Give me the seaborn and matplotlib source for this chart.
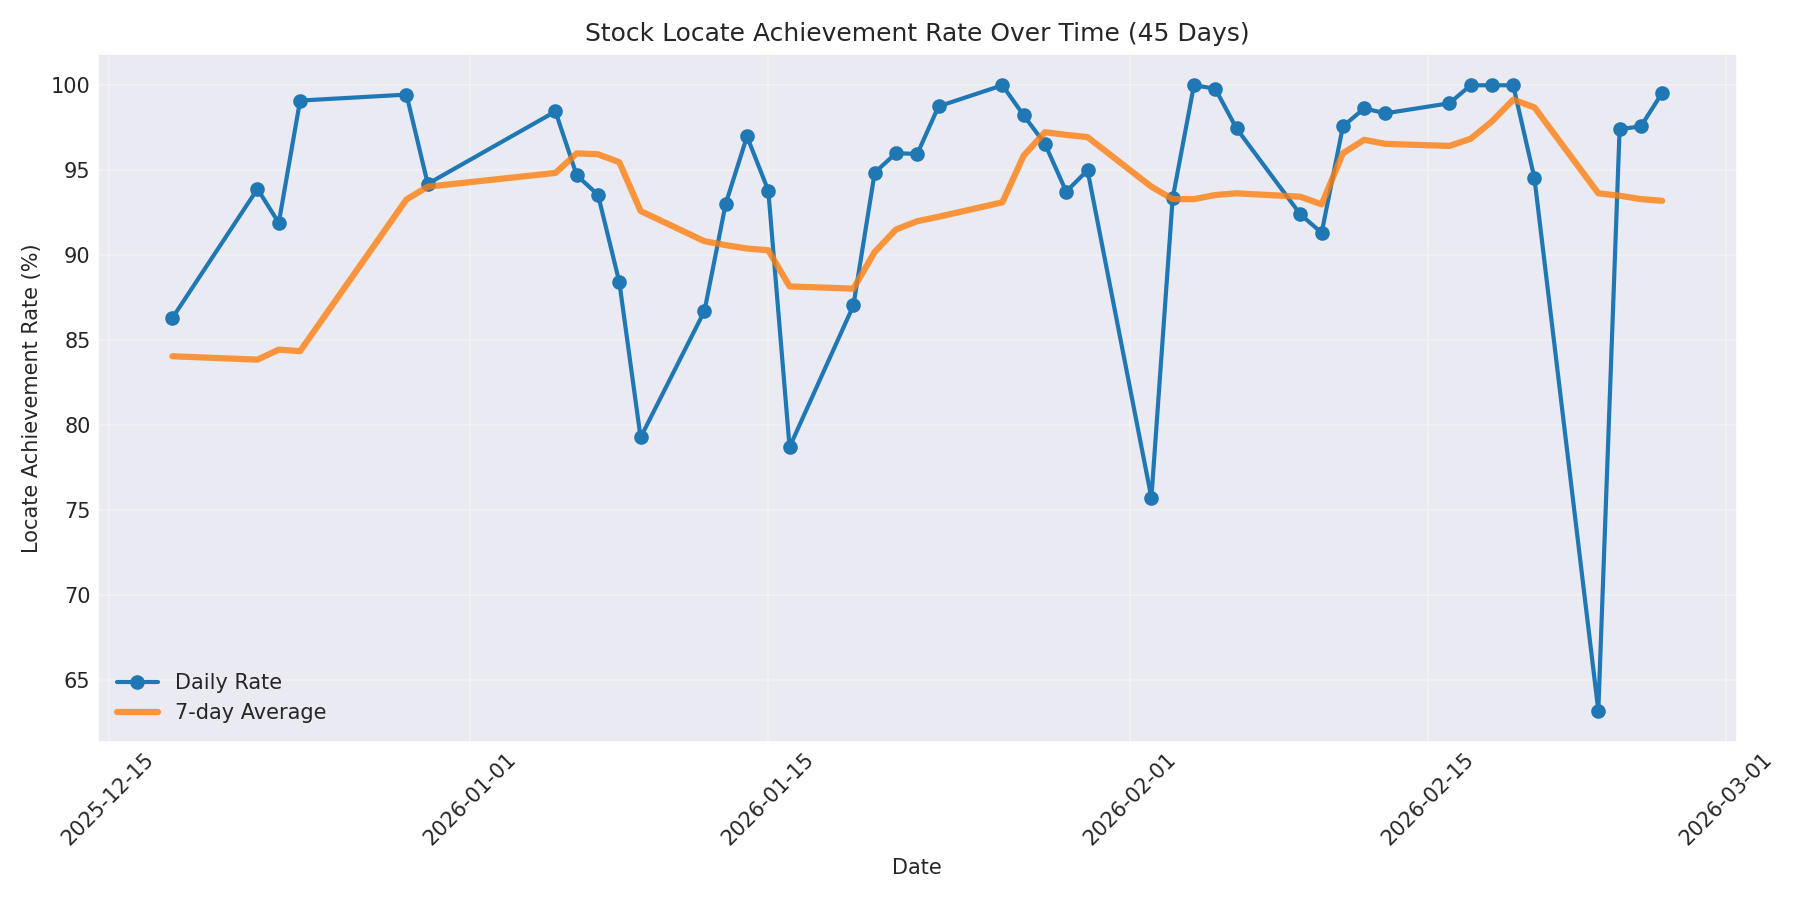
import pandas as pd
import matplotlib
matplotlib.use("Agg")
import matplotlib.pyplot as plt
import seaborn as sns

dates = [
    "2025-12-18", "2025-12-22", "2025-12-23", "2025-12-24", "2025-12-29", "2025-12-30",
    "2026-01-05", "2026-01-06", "2026-01-07", "2026-01-08", "2026-01-09",
    "2026-01-12", "2026-01-13", "2026-01-14", "2026-01-15", "2026-01-16",
    "2026-01-19", "2026-01-20", "2026-01-21", "2026-01-22", "2026-01-23",
    "2026-01-26", "2026-01-27", "2026-01-28", "2026-01-29", "2026-01-30",
    "2026-02-02", "2026-02-03", "2026-02-04", "2026-02-05", "2026-02-06",
    "2026-02-09", "2026-02-10", "2026-02-11", "2026-02-12", "2026-02-13",
    "2026-02-16", "2026-02-17", "2026-02-18", "2026-02-19", "2026-02-20",
    "2026-02-23", "2026-02-24", "2026-02-25", "2026-02-26",
]

daily_rate = [
    86.3, 93.9, 91.9, 99.1, 99.45, 94.2,
    98.46, 94.7, 93.55, 88.42, 79.27,
    86.71, 93.03, 96.99, 93.8, 78.7,
    87.04, 94.86, 96.0, 95.96, 98.76,
    100.0, 98.23, 96.55, 93.74, 95.0,
    75.72, 93.34, 100.0, 99.8, 97.46,
    92.4, 91.32, 97.58, 98.64, 98.35,
    98.94, 100.0, 100.0, 100.0, 94.52,
    63.18, 97.42, 97.58, 99.55,
]

avg_7day = [
    84.05, 83.85, 84.44, 84.35, 93.28, 94.03,
    94.84, 95.99, 95.94, 95.47, 92.6,
    90.82, 90.59, 90.39, 90.29, 88.16,
    88.03, 90.19, 91.51, 92.0, 92.26,
    93.11, 95.86, 97.24, 97.08, 96.95,
    94.03, 93.3, 93.3, 93.54, 93.64,
    93.44, 92.99, 96.0, 96.79, 96.55,
    96.43, 96.85, 97.87, 99.15, 98.7,
    93.64, 93.5, 93.3, 93.2,
]

df = pd.DataFrame({
    "date": pd.to_datetime(dates),
    "rate": daily_rate,
    "avg": avg_7day,
})

sns.set_style("darkgrid")
plt.rcParams["xtick.major.size"] = 0
plt.rcParams["ytick.major.size"] = 0

fig, ax = plt.subplots(figsize=(12, 6), dpi=150)
sns.lineplot(data=df, x="date", y="rate", marker="o", linewidth=2, markersize=6,
             markeredgewidth=1, markeredgecolor="#1f77b4", color="#1f77b4",
             label="Daily Rate", ax=ax)
sns.lineplot(data=df, x="date", y="avg", linewidth=3, alpha=0.8,
             color="#ff7f0e", label="7-day Average", ax=ax)

ax.set_title("Stock Locate Achievement Rate Over Time (45 Days)")
ax.set_xlabel("Date")
ax.set_ylabel("Locate Achievement Rate (%)")
ax.grid(True, alpha=0.3)
ax.legend(loc="lower left", frameon=False)
plt.xticks(rotation=45)
plt.tight_layout()
plt.savefig("out.png", dpi=150)
